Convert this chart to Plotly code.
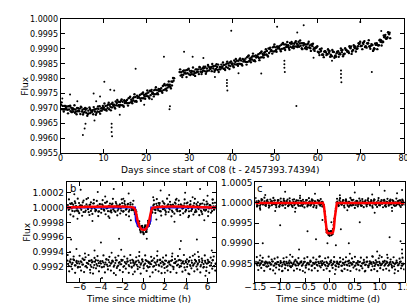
import numpy as np
import plotly.graph_objects as go

W, H = 415, 303

# ---------------- Top panel data (flux = 0.99 + v*1e-5) ----------------
seg1_rowA_span = (0.1, 26.1)
seg1_rowA = [712,697,708,695,707,687,697,689,700,681,695,688,699,683,693,680,697,689,707,692,702,696,713,705,719,703,718,711,725,709,724,717,736,724,737,725,739,732,750,740,750,737,757,749,763,752,764,756,778,766,779,772,789]
seg1_rowB_span = (0.35, 26.35)
seg1_rowB = [697,708,697,707,690,700,685,701,690,703,685,695,681,698,688,696,684,698,692,708,695,709,697,715,708,723,709,721,710,727,718,734,720,733,723,742,736,748,734,748,741,759,749,761,748,765,759,775,763,779,774,790,793]
seg1_rowC_span = (0.225, 26.225)
seg1_rowC = [720,689,701,683,709,695,710,680,693,705,679,701,675,703,689,704,678,706,682,700,716,692,719,693,712,699,728,705,730,705,722,709,739,717,747,722,737,725,753,732,760,733,762,740,771,747,763,752,782,760,790,767,802]
seg1_rowD_span = (0.475, 26.475)
seg1_rowD = [708,696,706,696,702,689,696,690,699,689,698,685,692,684,694,689,699,688,700,697,708,701,712,703,712,710,722,711,722,718,728,718,729,726,738,735,745,734,745,741,753,744,753,747,761,758,768,761,777,770,779,777,801]

seg2_rowA_span = (27.75, 76.75)
seg2_rowA = [822,812,827,817,831,812,824,818,831,815,831,827,840,826,837,825,842,832,847,831,841,833,851,844,858,842,856,849,864,848,863,856,875,863,875,862,876,869,888,879,890,878,900,893,908,896,907,897,917,903,913,903,917,909,922,906,918,902,919,907,918,902,909,893,906,887,893,880,892,882,893,875,889,873,892,882,896,884,895,886,908,896,908,901,917,910,923,907,919,900,913,900,919,912,929,923,947,939,954]
seg2_rowB_span = (28.0, 76.5)
seg2_rowB = [810,825,818,829,814,826,813,831,822,837,822,835,823,841,833,841,828,839,831,847,833,847,836,854,847,861,847,860,849,866,857,872,859,871,860,878,873,885,872,887,881,901,892,905,892,908,901,914,901,915,907,920,904,917,908,924,910,919,902,915,905,915,898,905,890,899,880,890,879,894,880,890,875,890,882,895,882,897,891,905,891,906,900,919,909,920,906,919,909,916,896,914,912,931,922,939,934,954]
seg2_rowC_span = (27.875, 76.875)
seg2_rowC = [831,805,820,805,833,820,837,809,824,839,815,840,816,846,833,849,823,848,822,838,854,829,857,832,851,838,866,843,868,844,861,847,878,855,884,858,874,862,891,871,899,874,904,884,915,890,905,892,920,896,923,897,923,902,926,912,928,899,915,899,924,893,917,901,909,879,901,872,888,899,873,896,870,885,873,901,875,902,890,909,883,912,891,909,924,899,926,904,929,910,893,918,899,929,911,945,935,956,936]
seg2_rowD_span = (28.125, 76.625)
seg2_rowD = [821,813,827,818,826,815,824,820,831,823,835,825,834,827,839,834,843,829,839,836,846,839,851,842,851,848,860,850,861,857,867,856,868,864,875,871,882,871,883,880,893,886,896,891,905,901,910,900,915,906,912,907,918,908,917,907,919,911,915,904,911,914,902,904,889,891,881,892,883,887,878,890,878,889,885,889,882,896,891,902,895,903,901,916,910,916,909,918,906,913,902,914,912,924,925,942,936,949]

top_out_days = [0.4,2.2,3.9,5.2,5.6,5.8,7.7,7.9,8.3,9.2,10.2,11.6,11.9,11.9,11.9,12.0,12.5,13.8,17.5,19.5,21.3,24.1,25.4,25.5,28.8,30.8,33.3,36.0,38.8,38.8,38.8,38.9,39.8,41.5,46.8,50.5,52.2,52.2,52.2,52.3,55.0,55.2,56.7,59.0,63.3,65.4,65.4,65.4,65.5,69.9,72.6,74.8]
top_out_v = [733,746,724,610,632,648,750,659,724,740,789,762,648,635,620,606,760,678,833,712,730,873,697,707,890,873,869,805,795,785,775,760,961,818,817,974,860,848,836,822,708,955,979,870,860,827,815,803,788,990,822,960]

# ---------------- Panel b data (hours, flux = 1 + ppm*1e-6) ----------------
b_upA_span = (-7.1, 6.7)
b_upA = [35,-20,48,-45,12,60,-8,-52,25,-30,70,5,-40,18,-62,40,-15,55,-5,-35,28,-50,10,45,-25,65,-10,-48,22,-38,52,0,-58,30,-18,42,-42,15,58,-28,8,-55,38,-12,
         -20,-70,-95,-235,-220,-320,-270,-345,-260,-300,-205,-210,-55,-25,
         45,-32,20,62,-48,8,-22,50,-60,30,-5,38,-40,15,68,-28,2,-50,44,-15,25,-55,58,-10,35,-45,12,60,-35,22,-20,48,-58,5,40,-30,55,-12,28,-48,18,65]
b_upB_span = (-7.03, 6.77)
b_upB = [-30,55,-12,40,-50,20,-38,62,-5,28,-60,15,45,-22,35,-45,5,58,-32,10,-55,48,-18,30,-42,65,-8,22,-52,40,-25,12,55,-40,25,-10,60,-48,35,-20,50,-35,8,42,
         -40,-30,-180,-190,-300,-250,-330,-268,-328,-237,-250,-110,-60,30,
         -28,50,-15,35,-52,18,62,-38,5,45,-25,30,-58,12,52,-20,38,-45,25,-8,58,-35,15,-50,42,-18,28,-62,48,-5,22,-40,55,-30,10,40,-55,32,-12,60,-25,18]
b_upC_span = (-7.0, 6.6)
b_upC = [110,-95,60,-120,85,-40,120,-75,30,-110,95,-60,115,-20,-100,70,-85,105,-50,90,-115,45,-70,100,-30,-90,80,-120,55,-65,118,-45,75,-105,20,-80,112,-55,88,-98,40,-118,65,-35,92,
         -90,-55,-250,-185,-335,-247,-360,-240,-328,-180,-225,-40,-68,
         98,-72,115,-38,62,-108,85,-15,-92,120,-60,78,-118,40,-82,105,-48,95,-100,25,-78,110,-35,68,-112,88,-22,-95,118,-55,72,-102,50,-88,100,-42,82,-115,35,-70,108,-28]
b_out_h = [-6.5,-5.9,-5.2,-4.3,-3.6,-2.8,-1.9,-1.4,0.9,1.6,2.4,3.1,3.9,4.6,5.3,6.0,6.5,-6.2,-4.8,-3.2,-1.2,1.2,2.9,4.2,5.7,-6.8,-4.0,-2.3,3.5,5.0,0.3,
           -6.9,-6.3,-5.5,-4.6,-3.9,-3.0,-2.1,-1.0,-0.4,0.6,1.3,2.0,2.7,3.4,4.3,5.1,5.8,6.4,-5.0,-2.6,4.8]
b_out_ppm = [180,240,130,210,150,250,120,190,140,230,170,120,200,140,250,160,110,-150,-180,-140,-170,-160,-190,-130,-170,-430,-470,-420,-450,-430,-420,
             -600,-560,-620,-580,-950,-610,-570,-900,-600,-930,-590,-880,-620,-560,-900,-600,-920,-580,-880,-910,-630]
b_loA_span = (-7.15, 6.75)
b_loA = [-715,-790,-740,-765,-700,-780,-735,-810,-755,-725,-770,-705,-795,-745,-760,-720,-800,-730,-775,-710,-785,-750,-728,-805,-742,-768,-702,-792,-738,-758,-722,-798,-748,-712,-782,-735,-765,-708,-788,-752,-730,-775,-715,-800,-745,-762,-725,-795,-740,-770,-705,-785,-755,-720,-808,-738,-765,-712,-790,-748,-728,-772,-702,-798,-742,-760,-718,-788,-735,-778,-710,-802,-750,-725,-768,-706,-792,-745,-758,-722,-800,-732,-775,-715,-785,-752,-730,-770,-708,-795,-740,-762,-720,-805,-748,-735,-780,-712,-790,-755]
b_loB_span = (-7.08, 6.78)
b_loB = [-760,-725,-795,-745,-710,-780,-752,-728,-802,-738,-768,-705,-788,-748,-720,-775,-740,-810,-732,-762,-715,-790,-755,-722,-798,-742,-770,-708,-785,-750,-730,-778,-712,-795,-745,-765,-718,-800,-735,-758,-725,-792,-748,-705,-782,-740,-772,-715,-805,-752,-728,-768,-710,-790,-745,-760,-722,-798,-738,-775,-708,-785,-750,-730,-770,-715,-802,-742,-765,-720,-795,-748,-735,-780,-712,-790,-755,-725,-808,-740,-762,-718,-788,-745,-770,-705,-795,-752,-732,-775,-715,-800,-742,-758,-725,-785,-748,-710,-792,-760]
b_loC_span = (-7.12, 6.72)
b_loC = [-640,-860,-700,-830,-660,-880,-720,-800,-650,-850,-690,-870,-670,-810,-640,-840,-710,-890,-680,-820,-655,-860,-725,-805,-645,-875,-695,-835,-665,-850,-715,-885,-675,-815,-650,-845,-705,-870,-660,-825,-690,-880,-640,-810,-720,-865,-670,-830,-655,-890,-700,-820,-645,-855,-730,-800,-665,-875,-685,-840,-650,-860,-710,-885,-675,-815,-645,-850,-725,-870,-660,-830,-695,-880,-655,-805,-715,-865,-640,-845,-700,-890,-670,-820,-650,-860,-720,-835,-665,-875,-690,-810,-645,-855,-705,-880,-675,-825,-660,-850]
b_red_h = [-7.2,-0.95,-0.85,-0.75,-0.65,-0.55,-0.45,-0.35,-0.25,-0.15,-0.05,0.05,0.15,0.25,0.35,0.45,0.55,0.65,0.75,0.85,6.8]
b_red_ppm = [0,0,-15,-50,-110,-180,-230,-262,-283,-295,-300,-300,-294,-280,-255,-218,-160,-90,-30,-5,0]
b_blue_h = [-7.2,-0.8,-0.72,-0.5,-0.25,0.0,0.25,0.45,0.65,0.72,6.8]
b_blue_ppm = [0,0,-180,-250,-285,-295,-285,-250,-180,0,0]

# ---------------- Panel c data (days, flux = 1 + ppm*1e-6) ----------------
c_upA_span = (-1.48, 1.48)
c_upA = [40,-65,25,-30,80,-10,-55,50,15,-75,35,-20,60,-45,5,70,-35,20,-60,45,-15,85,-50,10,-70,30,-25,65,-40,0,55,-80,22,-12,72,-48,38,-28,62,-58,18,-5,48,-68,28,
         -60,-210,-660,-690,-800,-705,-765,-545,-300,10,
         -42,68,-18,32,-72,52,-8,25,-62,78,-30,12,-50,42,-22,58,-65,8,36,-45,70,-15,28,-78,50,-35,15,62,-55,20,-10,75,-40,30,-68,45,-25,55,-5,-60,38,-32,65,-48,22]
c_upB_span = (-1.465, 1.495)
c_upB = [-50,30,-70,55,-15,40,-35,75,-60,10,45,-25,65,-45,20,-80,35,-5,58,-40,15,-65,48,-20,80,-55,25,-10,60,-72,42,-30,5,68,-48,22,-62,50,-18,38,-75,12,55,-35,28,
         -50,-470,-655,-790,-710,-800,-645,-390,-130,
         35,-58,20,-38,72,-12,45,-68,30,-25,62,-50,8,55,-42,18,-75,40,-8,65,-30,25,-60,48,-15,78,-45,12,-52,35,-22,58,-70,28,-5,52,-38,68,-55,15,-28,45,-65,22,60,-35]
c_upC_span = (-1.495, 1.455)
c_upC = [120,-90,55,-130,95,-40,130,-75,20,-115,85,-55,125,-25,-105,70,-95,110,-60,100,-125,45,-80,115,-35,-100,90,-128,60,-70,122,-50,78,-110,15,-85,118,-58,92,-102,35,-120,68,-38,98,-88,
         -100,-340,-730,-690,-815,-698,-775,-460,-200,
         105,-78,118,-42,65,-112,88,-18,-96,126,-64,80,-122,44,-86,108,-52,96,-104,28,-82,114,-38,72,-116,90,-26,-98,120,-58,74,-106,52,-92,102,-46,84,-118,38,-74,110,-30,62,-100,86]
c_out_d = [-1.35,-1.0,-0.62,-0.45,-0.28,-0.15,0.12,0.22,0.38,0.6,0.95,1.2,1.42,1.45,-0.05,0.03,
           -1.3,-0.9,-0.6,-0.3,0.2,0.5,0.85,1.1,1.35,1.45,-1.1,-0.7,0.35,0.9,1.25,-1.4,
           -1.4,-1.1,-0.8,-0.5,-0.2,0.1,0.4,0.7,1.0,1.3,1.45,-0.95,0.25,0.85,1.15]
c_out_ppm = [-1000,-550,-1150,-700,-900,-420,-1050,-650,-1000,-480,-1200,-850,-950,-1150,-1000,-480,
             200,280,180,230,190,260,210,300,240,320,-200,-220,-180,-240,-200,-170,
             -1300,-1750,-1280,-1720,-1320,-1760,-1260,-1700,-1300,-1740,-1250,-1680,-1690,-1320,-1280]
c_loA_span = (-1.49, 1.47)
c_loA = [-1460,-1545,-1490,-1520,-1445,-1535,-1480,-1570,-1505,-1470,-1525,-1450,-1555,-1495,-1515,-1465,-1560,-1475,-1530,-1455,-1540,-1500,-1472,-1565,-1488,-1518,-1448,-1552,-1485,-1510,-1462,-1558,-1495,-1458,-1538,-1482,-1520,-1452,-1548,-1502,-1478,-1532,-1460,-1562,-1492,-1512,-1468,-1555,-1488,-1528,-1450,-1545,-1505,-1465,-1568,-1485,-1522,-1455,-1550,-1498,-1475,-1530,-1448,-1560,-1490,-1515,-1462,-1548,-1482,-1535,-1458,-1565,-1500,-1470,-1525,-1452,-1552,-1495,-1512,-1465,-1560,-1478,-1532,-1460,-1545,-1502,-1475,-1528,-1455,-1555,-1488,-1518,-1462,-1568,-1495,-1480,-1538,-1458,-1550,-1505]
c_loB_span = (-1.475, 1.485)
c_loB = [-1510,-1468,-1552,-1492,-1455,-1538,-1502,-1472,-1562,-1485,-1522,-1450,-1548,-1498,-1465,-1532,-1488,-1570,-1478,-1515,-1460,-1550,-1505,-1468,-1558,-1490,-1528,-1452,-1545,-1500,-1475,-1535,-1458,-1555,-1495,-1520,-1462,-1560,-1482,-1512,-1470,-1552,-1498,-1450,-1540,-1488,-1530,-1460,-1565,-1502,-1472,-1525,-1455,-1548,-1495,-1515,-1465,-1558,-1485,-1532,-1452,-1545,-1500,-1475,-1528,-1460,-1562,-1490,-1520,-1468,-1555,-1498,-1480,-1538,-1458,-1550,-1505,-1470,-1568,-1488,-1518,-1462,-1548,-1495,-1530,-1450,-1555,-1502,-1478,-1535,-1460,-1560,-1490,-1512,-1470,-1545,-1498,-1455,-1552,-1515]
c_loC_span = (-1.47, 1.49)
c_loC = [-1340,-1660,-1420,-1610,-1360,-1680,-1450,-1580,-1330,-1640,-1400,-1670,-1380,-1600,-1350,-1650,-1440,-1690,-1370,-1620,-1345,-1665,-1430,-1590,-1335,-1675,-1410,-1630,-1365,-1655,-1445,-1685,-1375,-1605,-1340,-1645,-1425,-1670,-1355,-1615,-1400,-1680,-1330,-1595,-1440,-1660,-1370,-1625,-1350,-1690,-1420,-1610,-1340,-1650,-1450,-1585,-1360,-1675,-1395,-1635,-1345,-1660,-1430,-1685,-1375,-1600,-1335,-1645,-1440,-1670,-1355,-1620,-1410,-1680,-1350,-1590,-1445,-1665,-1330,-1640,-1420,-1690,-1370,-1615,-1340,-1655,-1435,-1630,-1360,-1675,-1400,-1600,-1345,-1650,-1425,-1685,-1380,-1620,-1355,-1645]
c_red_d = [-1.5,-0.14,-0.12,-0.1,-0.08,-0.06,-0.04,0.0,0.04,0.06,0.08,0.1,0.12,0.14,1.5]
c_red_ppm = [0,0,-80,-350,-620,-730,-750,-755,-750,-730,-620,-350,-80,0,0]

# tick labels
top_xticks = [0,10,20,30,40,50,60,70,80]
top_yticks = [0.9955,0.9960,0.9965,0.9970,0.9975,0.9980,0.9985,0.9990,0.9995,1.0000]
b_xticks = [-6,-4,-2,0,2,4,6]
b_yticks = [0.9992,0.9994,0.9996,0.9998,1.0000,1.0002]
c_xticks = [-1.5,-1.0,-0.5,0.0,0.5,1.0,1.5]
c_yticks = [0.9985,0.9990,0.9995,1.0000,1.0005]

FONT = "DejaVu Sans"

def spread(span, vals):
    return np.linspace(span[0], span[1], len(vals))

def e5(v):
    return 0.99 + np.asarray(v, float) * 1e-5

def ppm(v):
    return 1.0 + np.asarray(v, float) * 1e-6

fig = go.Figure()
def dots(x, y, xa, ya, ms):
    fig.add_trace(go.Scatter(x=x, y=y, mode="markers", xaxis=xa, yaxis=ya,
                             marker=dict(size=ms, color="black", line=dict(width=0)),
                             showlegend=False, hoverinfo="skip"))

for span, vals in [(seg1_rowA_span, seg1_rowA), (seg1_rowB_span, seg1_rowB), (seg1_rowC_span, seg1_rowC), (seg1_rowD_span, seg1_rowD),
                   (seg2_rowA_span, seg2_rowA), (seg2_rowB_span, seg2_rowB), (seg2_rowC_span, seg2_rowC), (seg2_rowD_span, seg2_rowD)]:
    dots(spread(span, vals), e5(vals), "x", "y", 2.4)
n = min(len(top_out_days), len(top_out_v))
dots(top_out_days[:n], e5(top_out_v[:n]), "x", "y", 2.0)

for span, vals in [(b_upA_span, b_upA), (b_upB_span, b_upB), (b_upC_span, b_upC),
                   (b_loA_span, b_loA), (b_loB_span, b_loB), (b_loC_span, b_loC)]:
    dots(spread(span, vals), ppm(vals), "x2", "y2", 2.2)
n = min(len(b_out_h), len(b_out_ppm))
dots(b_out_h[:n], ppm(b_out_ppm[:n]), "x2", "y2", 2.0)
fig.add_trace(go.Scatter(x=b_blue_h, y=ppm(b_blue_ppm), mode="lines", xaxis="x2", yaxis="y2",
                         line=dict(color="#0000ff", width=2), showlegend=False, hoverinfo="skip"))
fig.add_trace(go.Scatter(x=b_red_h, y=ppm(b_red_ppm), mode="lines", xaxis="x2", yaxis="y2",
                         line=dict(color="#ff0000", width=2.5, shape="spline"), showlegend=False, hoverinfo="skip"))

for span, vals in [(c_upA_span, c_upA), (c_upB_span, c_upB), (c_upC_span, c_upC),
                   (c_loA_span, c_loA), (c_loB_span, c_loB), (c_loC_span, c_loC)]:
    dots(spread(span, vals), ppm(vals), "x3", "y3", 2.2)
n = min(len(c_out_d), len(c_out_ppm))
dots(c_out_d[:n], ppm(c_out_ppm[:n]), "x3", "y3", 2.0)
fig.add_trace(go.Scatter(x=c_red_d, y=ppm(c_red_ppm), mode="lines", xaxis="x3", yaxis="y3",
                         line=dict(color="#ff0000", width=2.5), showlegend=False, hoverinfo="skip"))

def dom_x(a, b): return [a / W, b / W]
def dom_y(top, bot): return [1 - bot / H, 1 - top / H]

def ax(domain, rng, tickvals, fmt, size, anchor, standoff=None):
    d = dict(domain=domain, range=rng, tickvals=tickvals, tickformat=fmt,
             ticks="inside", ticklen=4, tickwidth=1, tickcolor="black",
             showline=True, linecolor="black", linewidth=1, mirror="ticks",
             showgrid=False, zeroline=False, anchor=anchor, ticklabeloverflow="allow",
             tickfont=dict(family=FONT, size=size, color="black"))
    if standoff is not None:
        d["ticklabelstandoff"] = standoff
    return d

fig.update_layout(
    width=W, height=H, margin=dict(l=0, r=0, t=0, b=0),
    paper_bgcolor="white", plot_bgcolor="white",
    xaxis=ax(dom_x(43.5, 402), [0, 80], top_xticks, "d", 8, "y", -3),
    yaxis=ax(dom_y(7, 145), [0.99549, 1.00001], top_yticks, ".4f", 8, "x"),
    xaxis2=ax(dom_x(50, 206), [-7.2, 6.8], b_xticks, "d", 9, "y2", -3),
    yaxis2=ax(dom_y(175, 277), [0.99900, 1.00034], b_yticks, ".4f", 9, "x2"),
    xaxis3=ax(dom_x(247, 403), [-1.5, 1.5], c_xticks, ".1f", 9, "y3", -3),
    yaxis3=ax(dom_y(175, 277), [0.99805, 1.00051], c_yticks, ".4f", 9, "x3"),
)

def label(text, x, y, size, angle=0):
    fig.add_annotation(text=text, x=x / W, y=1 - y / H, xref="paper", yref="paper",
                       showarrow=False, textangle=angle, xanchor="center", yanchor="middle",
                       font=dict(family=FONT, size=size, color="black"))

label("Days since start of C08 (t - 2457393.74394)", 211, 162, 9)
label("Time since midtime (h)", 125, 295, 9)
label("Time since midtime (d)", 323, 295, 9)
label("Flux", 6, 76, 9, -90)
label("Flux", 8, 226, 9, -90)
label("b", 56.5, 181.5, 10)
label("c", 252, 181.5, 10)

fig.write_html("out.html")
